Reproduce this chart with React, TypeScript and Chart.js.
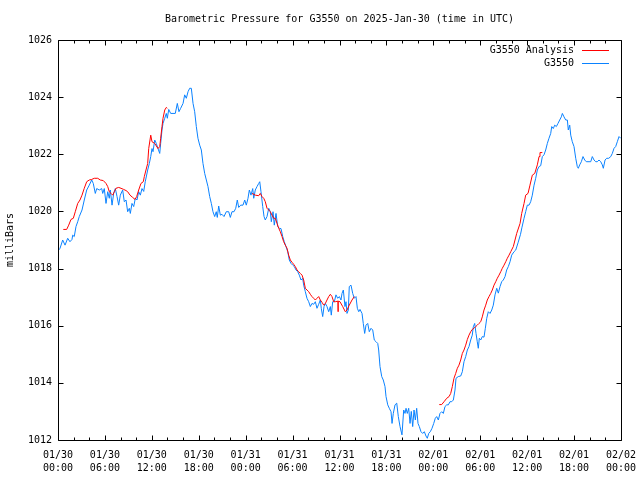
import { useEffect, useRef } from 'react';
import { Chart, registerables } from 'chart.js';

Chart.register(...registerables);

const TITLE = 'Barometric Pressure for G3550 on 2025-Jan-30 (time in UTC)';
const Y_TITLE = 'milliBars';
const SERIES_ANALYSIS = 'G3550 Analysis';
const SERIES_STATION = 'G3550';
const COLOR_ANALYSIS = '#ff0000';
const COLOR_STATION = '#0a82ff';
const FONT = { family: "'DejaVu Sans Mono', monospace", size: 10 };

// hours since 2025-01-30 00:00 UTC
const X_MIN = 0;
const X_MAX = 72;
const Y_MIN = 1012;
const Y_MAX = 1026;
const Y_STEP = 2;

const xTickLabels: string[][] = [
  ['01/30', '00:00'], ['01/30', '06:00'], ['01/30', '12:00'], ['01/30', '18:00'],
  ['01/31', '00:00'], ['01/31', '06:00'], ['01/31', '12:00'], ['01/31', '18:00'],
  ['02/01', '00:00'], ['02/01', '06:00'], ['02/01', '12:00'], ['02/01', '18:00'],
  ['02/02', '00:00'],
];

// station readings [hour, mb]
const stationReadings: [number, number][] = [
  [0.00, 1018.62], [0.26, 1018.71], [0.60, 1019.00], [0.90, 1018.82], [1.24, 1019.06], [1.53, 1018.94],
  [1.79, 1019.02], [1.88, 1019.17], [2.08, 1019.12], [2.30, 1019.47], [2.52, 1019.64], [2.72, 1019.82],
  [3.07, 1020.05], [3.36, 1020.40], [3.67, 1020.75], [4.00, 1020.92], [4.31, 1021.10], [4.51, 1020.98],
  [4.77, 1020.63], [4.95, 1020.80], [5.28, 1020.75], [5.59, 1020.80], [5.72, 1020.63], [5.92, 1020.80],
  [6.14, 1020.28], [6.36, 1020.69], [6.56, 1020.46], [6.69, 1020.75], [6.91, 1020.22], [7.12, 1020.63],
  [7.33, 1020.80], [7.55, 1020.52], [7.76, 1020.22], [7.97, 1020.57], [8.27, 1020.75], [8.48, 1020.34],
  [8.70, 1020.40], [8.91, 1019.99], [9.12, 1020.11], [9.25, 1019.93], [9.46, 1020.28], [9.68, 1020.17],
  [9.89, 1020.46], [10.10, 1020.40], [10.32, 1020.69], [10.53, 1020.57], [10.74, 1020.80], [10.96, 1020.70],
  [11.16, 1021.04], [11.47, 1021.45], [11.68, 1021.68], [11.86, 1021.92], [12.02, 1022.20], [12.15, 1022.09],
  [12.37, 1022.50], [12.57, 1022.38], [12.79, 1022.20], [13.01, 1022.03], [13.13, 1022.38], [13.30, 1022.85],
  [13.43, 1023.08], [13.65, 1023.26], [13.85, 1023.43], [13.98, 1023.26], [14.16, 1023.57], [14.41, 1023.43],
  [14.71, 1023.43], [15.00, 1023.43], [15.26, 1023.78], [15.47, 1023.49], [15.69, 1023.61], [15.99, 1023.78],
  [16.20, 1024.08], [16.41, 1023.96], [16.63, 1024.19], [16.84, 1024.31], [17.05, 1024.31], [17.27, 1023.78],
  [17.48, 1023.49], [17.69, 1022.97], [17.90, 1022.56], [18.12, 1022.32], [18.33, 1022.15], [18.54, 1021.68],
  [18.76, 1021.33], [18.97, 1021.10], [19.18, 1020.87], [19.40, 1020.52], [19.61, 1020.28], [19.82, 1019.99],
  [20.04, 1019.82], [20.24, 1019.99], [20.37, 1019.79], [20.55, 1020.19], [20.76, 1019.87], [20.97, 1019.90],
  [21.23, 1019.82], [21.52, 1019.99], [21.83, 1019.99], [22.04, 1019.79], [22.25, 1019.99], [22.51, 1019.99],
  [22.73, 1020.11], [22.93, 1020.40], [23.11, 1020.14], [23.37, 1020.22], [23.66, 1020.22], [23.88, 1020.40],
  [24.08, 1020.22], [24.30, 1020.46], [24.47, 1020.75], [24.68, 1020.57], [24.90, 1020.80], [25.03, 1020.46],
  [25.23, 1020.75], [25.45, 1020.87], [25.67, 1020.98], [25.80, 1021.04], [25.96, 1020.69], [26.18, 1020.17],
  [26.35, 1019.82], [26.51, 1019.70], [26.73, 1019.82], [26.95, 1020.11], [27.15, 1019.99], [27.28, 1019.64],
  [27.50, 1019.99], [27.66, 1019.52], [27.88, 1019.93], [28.10, 1019.47], [28.30, 1019.41], [28.52, 1019.40],
  [28.74, 1019.12], [28.94, 1018.94], [29.16, 1018.77], [29.38, 1018.59], [29.58, 1018.30], [29.80, 1018.18],
  [30.02, 1018.12], [30.22, 1018.07], [30.44, 1017.95], [30.66, 1017.89], [30.86, 1017.77], [31.08, 1017.60],
  [31.29, 1017.66], [31.42, 1017.42], [31.63, 1017.19], [31.84, 1016.96], [32.06, 1016.84], [32.27, 1016.67],
  [32.48, 1016.78], [32.70, 1016.75], [32.91, 1016.84], [33.12, 1016.61], [33.34, 1016.75], [33.55, 1016.90],
  [33.67, 1016.61], [33.85, 1016.32], [34.02, 1016.67], [34.19, 1016.78], [34.40, 1016.67], [34.62, 1016.49],
  [34.83, 1016.67], [34.95, 1016.37], [35.13, 1016.84], [35.34, 1016.84], [35.55, 1017.08], [35.77, 1016.96],
  [35.98, 1017.02], [36.19, 1016.90], [36.32, 1017.13], [36.49, 1017.25], [36.70, 1016.67], [36.83, 1016.84],
  [36.96, 1016.43], [37.13, 1016.55], [37.25, 1017.37], [37.47, 1017.42], [37.69, 1017.13], [37.89, 1016.96],
  [38.11, 1017.02], [38.28, 1016.61], [38.46, 1016.49], [38.62, 1016.57], [38.88, 1016.43], [39.04, 1016.08],
  [39.22, 1015.73], [39.39, 1016.02], [39.61, 1016.08], [39.81, 1015.79], [40.03, 1015.91], [40.25, 1015.85],
  [40.45, 1015.50], [40.67, 1015.44], [40.89, 1015.38], [41.01, 1015.15], [41.18, 1014.57], [41.40, 1014.22],
  [41.60, 1014.10], [41.82, 1013.87], [41.95, 1013.52], [42.17, 1013.23], [42.37, 1013.11], [42.59, 1012.99],
  [42.72, 1012.58], [42.88, 1012.93], [43.10, 1013.23], [43.32, 1013.29], [43.52, 1012.82], [43.74, 1012.47],
  [43.99, 1012.18], [44.21, 1013.05], [44.38, 1012.93], [44.51, 1013.11], [44.67, 1012.93], [44.85, 1013.11],
  [45.02, 1012.58], [45.18, 1013.00], [45.36, 1012.47], [45.53, 1013.05], [45.70, 1012.70], [45.87, 1013.11],
  [46.04, 1012.58], [46.21, 1012.47], [46.42, 1012.29], [46.64, 1012.23], [46.85, 1012.29], [47.06, 1012.14],
  [47.23, 1012.06], [47.41, 1012.23], [47.61, 1012.29], [47.83, 1012.41], [48.05, 1012.58], [48.25, 1012.76],
  [48.43, 1012.82], [48.64, 1012.70], [48.85, 1012.93], [49.07, 1012.99], [49.28, 1012.93], [49.49, 1013.17],
  [49.71, 1013.23], [49.92, 1013.23], [50.13, 1013.34], [50.35, 1013.34], [50.56, 1013.40], [50.77, 1013.75],
  [50.90, 1014.16], [51.19, 1014.22], [51.50, 1014.24], [51.71, 1014.39], [51.92, 1014.74], [52.14, 1014.92],
  [52.35, 1015.15], [52.56, 1015.27], [52.78, 1015.50], [52.98, 1015.67], [53.11, 1015.96], [53.29, 1016.08],
  [53.46, 1015.73], [53.62, 1015.44], [53.75, 1015.21], [53.88, 1015.56], [54.06, 1015.50], [54.26, 1015.62],
  [54.48, 1015.60], [54.65, 1015.91], [54.83, 1016.26], [55.03, 1016.49], [55.25, 1016.43], [55.47, 1016.55],
  [55.67, 1016.72], [55.89, 1017.08], [56.11, 1017.31], [56.31, 1017.14], [56.53, 1017.37], [56.74, 1017.54],
  [56.95, 1017.60], [57.17, 1017.72], [57.38, 1017.95], [57.59, 1018.07], [57.81, 1018.24], [58.02, 1018.47],
  [58.32, 1018.59], [58.54, 1018.65], [58.83, 1018.90], [59.15, 1019.20], [59.34, 1019.45], [59.60, 1019.76],
  [59.81, 1019.99], [60.02, 1020.22], [60.24, 1020.22], [60.45, 1020.34], [60.66, 1020.57], [60.88, 1020.92],
  [61.09, 1021.16], [61.30, 1021.45], [61.52, 1021.57], [61.73, 1021.60], [61.94, 1021.92], [62.15, 1021.98],
  [62.37, 1022.15], [62.58, 1022.38], [62.79, 1022.56], [63.01, 1022.73], [63.14, 1022.97], [63.34, 1022.90],
  [63.52, 1023.02], [63.73, 1022.97], [63.94, 1023.08], [64.16, 1023.20], [64.37, 1023.31], [64.50, 1023.43],
  [64.71, 1023.31], [64.93, 1023.20], [65.14, 1023.20], [65.26, 1022.85], [65.44, 1023.02], [65.57, 1022.67],
  [65.77, 1022.44], [65.99, 1022.27], [66.21, 1021.86], [66.41, 1021.57], [66.54, 1021.51], [66.72, 1021.63],
  [66.93, 1021.74], [67.14, 1021.92], [67.36, 1021.80], [67.56, 1021.74], [67.91, 1021.74], [68.13, 1021.74],
  [68.33, 1021.92], [68.55, 1021.80], [68.77, 1021.74], [68.97, 1021.74], [69.19, 1021.80], [69.41, 1021.74],
  [69.61, 1021.63], [69.74, 1021.51], [69.96, 1021.80], [70.17, 1021.86], [70.43, 1021.86], [70.69, 1021.92],
  [70.89, 1022.03], [71.11, 1022.21], [71.32, 1022.27], [71.53, 1022.44], [71.75, 1022.62], [71.97, 1022.56],
];

// analysis segments [hour, mb]
const analysisMorning: [number, number][] = [
  [0.68, 1019.37], [1.11, 1019.37], [1.37, 1019.52], [1.66, 1019.72], [1.96, 1019.76], [2.21, 1019.99],
  [2.52, 1020.28], [2.81, 1020.40], [3.07, 1020.57], [3.36, 1020.81], [3.67, 1021.04], [4.00, 1021.10],
  [4.31, 1021.12], [4.64, 1021.16], [5.08, 1021.16], [5.41, 1021.10], [5.79, 1021.08], [6.14, 1020.98],
  [6.36, 1020.87], [6.56, 1020.69], [6.78, 1020.63], [7.00, 1020.57], [7.20, 1020.69], [7.42, 1020.81],
  [7.76, 1020.84], [8.06, 1020.81], [8.40, 1020.77], [8.70, 1020.73], [8.91, 1020.69], [9.21, 1020.57],
  [9.55, 1020.49], [9.85, 1020.42], [10.06, 1020.52], [10.32, 1020.75], [10.61, 1020.98], [10.91, 1021.04],
  [11.04, 1021.22], [11.25, 1021.45], [11.47, 1021.68], [11.60, 1022.20], [11.86, 1022.67], [12.02, 1022.44],
  [12.37, 1022.38], [12.79, 1022.20], [13.01, 1022.27], [13.13, 1022.56], [13.30, 1022.97], [13.43, 1023.26],
  [13.65, 1023.55], [13.85, 1023.64], [13.98, 1023.61],
];
const analysisDayTwo: [number, number][] = [
  [24.81, 1020.63], [25.23, 1020.57], [25.67, 1020.55], [25.87, 1020.63], [26.09, 1020.52], [26.31, 1020.46],
  [26.51, 1020.34], [26.73, 1020.11], [26.95, 1020.05], [27.15, 1019.99], [27.37, 1019.87], [27.59, 1019.76],
  [27.79, 1019.76], [28.01, 1019.58], [28.23, 1019.41], [28.43, 1019.29], [28.65, 1019.12], [28.86, 1018.94],
  [29.07, 1018.82], [29.29, 1018.71], [29.50, 1018.47], [29.71, 1018.30], [29.93, 1018.22], [30.14, 1018.15],
  [30.35, 1018.07], [30.57, 1017.95], [30.78, 1017.89], [30.99, 1017.83], [31.21, 1017.77], [31.42, 1017.60],
  [31.63, 1017.31], [31.84, 1017.25], [32.06, 1017.19], [32.27, 1017.10], [32.48, 1017.02], [32.70, 1016.96],
  [32.91, 1016.90], [33.12, 1016.96], [33.34, 1017.02], [33.55, 1016.90], [33.76, 1016.82], [33.98, 1016.72],
  [34.19, 1016.78], [34.40, 1016.90], [34.62, 1017.02], [34.83, 1017.10], [35.04, 1017.02], [35.26, 1016.84],
  [35.46, 1016.84], [35.81, 1016.86], [35.82, 1016.49], [35.83, 1016.86], [36.06, 1016.84], [36.41, 1016.67],
  [36.74, 1016.49], [36.96, 1016.55], [37.25, 1016.72], [37.60, 1016.90], [37.89, 1017.02],
];
const analysisDayThree: [number, number][] = [
  [48.76, 1013.24], [49.07, 1013.24], [49.37, 1013.34], [49.71, 1013.46], [50.01, 1013.52], [50.22, 1013.63],
  [50.43, 1013.87], [50.64, 1014.16], [50.86, 1014.33], [51.07, 1014.51], [51.28, 1014.62], [51.50, 1014.80],
  [51.71, 1015.03], [51.92, 1015.15], [52.14, 1015.32], [52.35, 1015.52], [52.56, 1015.67], [52.78, 1015.79],
  [52.98, 1015.87], [53.20, 1015.91], [53.42, 1015.97], [53.62, 1016.02], [53.84, 1016.08], [54.06, 1016.14],
  [54.26, 1016.31], [54.48, 1016.55], [54.70, 1016.72], [54.90, 1016.90], [55.12, 1017.02], [55.34, 1017.13],
  [55.54, 1017.25], [55.76, 1017.42], [55.98, 1017.54], [56.18, 1017.66], [56.40, 1017.77], [56.62, 1017.89],
  [56.82, 1018.01], [57.04, 1018.12], [57.26, 1018.24], [57.46, 1018.36], [57.68, 1018.47], [57.90, 1018.59],
  [58.23, 1018.77], [58.66, 1019.23], [59.09, 1019.58], [59.30, 1019.93], [59.60, 1020.28], [59.81, 1020.57],
  [60.11, 1020.63], [60.36, 1020.92], [60.66, 1021.27], [60.97, 1021.33], [61.30, 1021.63], [61.52, 1021.92],
  [61.64, 1022.06], [61.94, 1022.06],
];

const toPoints = (rows: [number, number][]) => rows.map(([x, y]) => ({ x, y }));
const analysisSegments = [analysisMorning, analysisDayTwo, analysisDayThree];

const gnuplotFrame = {
  id: 'gnuplotFrame',
  afterDraw(chart: any) {
    const { ctx, chartArea: a, scales } = chart;
    const xs = scales.x;
    const ys = scales.y;
    const L = Math.round(a.left) + 0.5;
    const R = Math.round(a.right) + 0.5;
    const T = Math.round(a.top) + 0.5;
    const B = Math.round(a.bottom) + 0.5;
    ctx.save();
    ctx.strokeStyle = '#000';
    ctx.lineWidth = 1;
    ctx.beginPath();
    ctx.rect(L, T, R - L, B - T);
    for (let h = X_MIN; h <= X_MAX; h += 2) {
      const px = Math.round(xs.getPixelForValue(h)) + 0.5;
      const len = h % 6 === 0 ? 5 : 3;
      ctx.moveTo(px, B); ctx.lineTo(px, B - len);
      ctx.moveTo(px, T); ctx.lineTo(px, T + len);
    }
    for (let v = Y_MIN; v <= Y_MAX; v += Y_STEP) {
      const py = Math.round(ys.getPixelForValue(v)) + 0.5;
      ctx.moveTo(L, py); ctx.lineTo(L + 5, py);
      ctx.moveTo(R, py); ctx.lineTo(R - 5, py);
    }
    ctx.stroke();

    // legend (top right, inside plot)
    ctx.font = `${FONT.size}px ${FONT.family}`;
    ctx.textAlign = 'right';
    ctx.textBaseline = 'middle';
    ctx.fillStyle = '#000';
    chart.data.datasets.forEach((ds: any, i: number) => {
      const y = Math.round(a.top + 10 + i * 13) + 0.5;
      ctx.fillText(ds.label, a.right - 47, y);
      ctx.beginPath();
      ctx.strokeStyle = ds.borderColor;
      ctx.moveTo(a.right - 39, y);
      ctx.lineTo(a.right - 12, y);
      ctx.stroke();
    });
    ctx.restore();
  },
};

export default function App() {
  const ref = useRef<HTMLCanvasElement | null>(null);
  useEffect(() => {
    if (!ref.current) return;
    const analysisData: any[] = [];
    analysisSegments.forEach((seg, i) => {
      if (i > 0) analysisData.push({ x: seg[0][0] - 0.01, y: null });
      analysisData.push(...toPoints(seg));
    });
    const chart = new Chart(ref.current, {
      type: 'line',
      data: {
        datasets: [
          {
            label: SERIES_ANALYSIS,
            data: analysisData,
            borderColor: COLOR_ANALYSIS,
            backgroundColor: COLOR_ANALYSIS,
            borderWidth: 1,
            pointRadius: 0,
            tension: 0,
            spanGaps: false,
            fill: false,
          },
          {
            label: SERIES_STATION,
            data: toPoints(stationReadings),
            borderColor: COLOR_STATION,
            backgroundColor: COLOR_STATION,
            borderWidth: 1,
            pointRadius: 0,
            tension: 0,
            fill: false,
          },
        ],
      },
      options: {
        animation: false,
        responsive: false,
        devicePixelRatio: 1,
        events: [],
        layout: { padding: { left: 0, right: 19, top: 0, bottom: 0 } },
        plugins: {
          legend: { display: false },
          tooltip: { enabled: false },
          title: {
            display: true,
            text: TITLE,
            fullSize: false,
            color: '#000',
            font: { ...FONT, weight: 'normal' },
            padding: { top: 13, bottom: 15 },
          },
        },
        scales: {
          x: {
            type: 'linear',
            min: X_MIN,
            max: X_MAX,
            grid: { display: false, drawTicks: false },
            border: { display: false },
            ticks: {
              stepSize: 6,
              autoSkip: false,
              maxRotation: 0,
              minRotation: 0,
              color: '#000',
              font: { ...FONT, lineHeight: 1.3 },
              padding: 9,
              callback: (v: any) => xTickLabels[Math.round(Number(v) / 6)] ?? '',
            },
            afterFit: (s: any) => {
              s.height = 40;
              s.paddingLeft = 0;
              s.paddingRight = 0;
            },
          },
          y: {
            type: 'linear',
            min: Y_MIN,
            max: Y_MAX,
            grid: { display: false, drawTicks: false },
            border: { display: false },
            ticks: {
              stepSize: Y_STEP,
              color: '#000',
              font: FONT,
              padding: 6,
              callback: (v: any) => String(v),
            },
            title: {
              display: true,
              text: Y_TITLE,
              color: '#000',
              font: FONT,
              padding: { top: 4, bottom: 0 },
            },
            afterFit: (s: any) => {
              s.width = 58;
              s.paddingTop = 0;
              s.paddingBottom = 0;
            },
          },
        },
      },
      plugins: [gnuplotFrame],
    });
    return () => chart.destroy();
  }, []);
  return (
    <div style={{ position: 'fixed', left: 0, top: 0, width: 640, height: 480, background: '#fff' }}>
      <canvas ref={ref} width={640} height={480} style={{ display: 'block', width: 640, height: 480 }} />
    </div>
  );
}
